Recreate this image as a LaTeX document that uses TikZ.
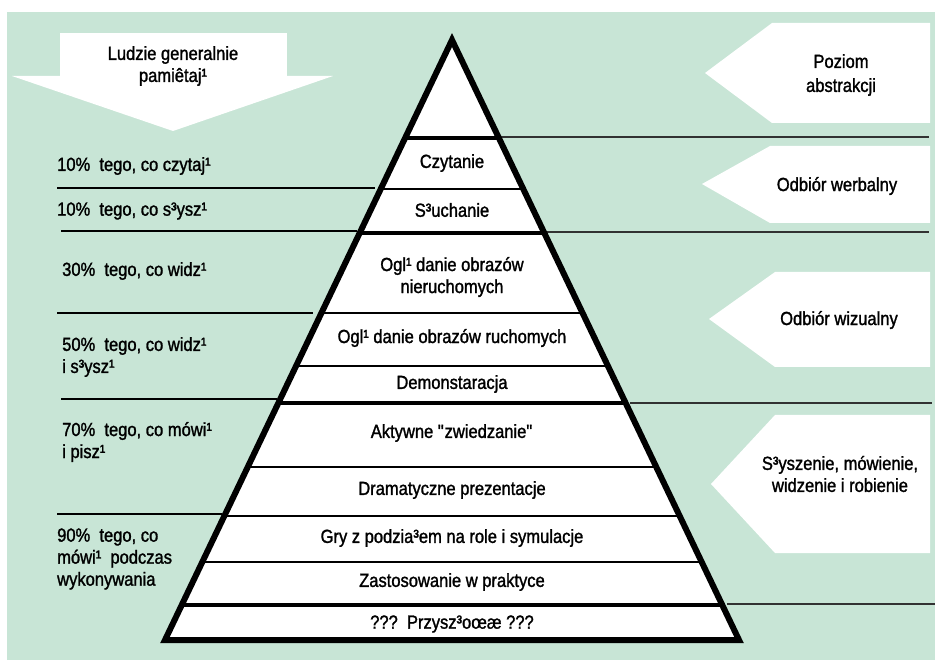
\documentclass[tikz,border=0pt]{standalone}
\usepackage{fontspec}
\setmainfont{Liberation Sans}[FakeStretch=0.87, FakeBold=1.4]
\definecolor{mint}{RGB}{200,229,214}
\definecolor{rulegray}{RGB}{50,50,50}
\begin{document}
\begin{tikzpicture}[x=1pt,y=-1pt,
  txt/.style={font=\fontsize{19}{22}\selectfont, inner sep=0pt},
  lefttxt/.style={txt, anchor=west, align=left},
  midtxt/.style={txt, align=center},
  tagbox/.style={fill=white},
  leftrule/.style={line width=1.8pt, black},
  rightrule/.style={line width=1.2pt, rulegray},
  thinlayer/.style={line width=2pt},
  thicklayer/.style={line width=3.5pt}]

\useasboundingbox (0,0) rectangle (935,660);
\fill[white] (0,0) rectangle (935,660);
\fill[mint] (7,12) rectangle (935,660);

% downward arrow, top left
\fill[tagbox] (60,33) rectangle (287,77);
\fill[tagbox] (12,76) -- (333,76) -- (173,131) -- cycle;
\node[midtxt] (remember) at (173,66) {Ludzie generalnie\\pamiêtaj¹};

% left-pointing tags on the right
\fill[tagbox] (930,23) -- (772,23) -- (705,73) -- (772,123) -- (930,123) -- cycle;
\node[midtxt, font=\fontsize{19}{24}\selectfont] (abstr) at (841,75) {Poziom\\abstrakcji};
\fill[tagbox] (930,146) -- (770,146) -- (702,184) -- (770,223) -- (930,223) -- cycle;
\node[midtxt] (verbal) at (837,186) {Odbiór werbalny};
\fill[tagbox] (930,272) -- (775,272) -- (709,319) -- (775,367) -- (930,367) -- cycle;
\node[midtxt] (visual) at (839,320) {Odbiór wizualny};
\fill[tagbox] (930,415) -- (775,415) -- (711,484) -- (775,553) -- (930,553) -- cycle;
\node[midtxt] (doing) at (840,474) {S³yszenie, mówienie,\\widzenie i robienie};

% separators running out of the pyramid
\draw[rightrule] (500,137) -- (929,137);
\draw[rightrule] (547,232) -- (929,232);
\draw[rightrule] (630,403) -- (932,403);
\draw[rightrule] (727,604) -- (935,604);
\draw[leftrule] (57,188) -- (375,188);
\draw[leftrule] (61,231) -- (357,231);
\draw[leftrule] (57,313) -- (313,313);
\draw[leftrule] (61,399) -- (277,399);
\draw[leftrule] (57,514) -- (222,514);

% pyramid
\coordinate (apex) at (452,40);
\coordinate (bl) at (165,640);
\coordinate (br) at (739,640);
\fill[white] (apex) -- (bl) -- (br) -- cycle;
\begin{scope}
  \clip (apex) -- (bl) -- (br) -- cycle;
  \draw[thicklayer] (100,138) -- (800,138);
  \draw[thinlayer]  (100,189) -- (800,189);
  \draw[thicklayer] (100,233) -- (800,233);
  \draw[thinlayer]  (100,313) -- (800,313);
  \draw[thinlayer]  (100,366) -- (800,366);
  \draw[thicklayer] (100,403) -- (800,403);
  \draw[thinlayer]  (100,467) -- (800,467);
  \draw[thinlayer]  (100,516) -- (800,516);
  \draw[thinlayer]  (100,562) -- (800,562);
  \draw[line width=4pt] (100,605) -- (800,605);
\end{scope}
\draw[line width=6pt, line join=miter] (apex) -- (bl) -- (br) -- cycle;

% pyramid layers
\node[midtxt] (l1)  at (452,163) {Czytanie};
\node[midtxt] (l2)  at (452,210) {S³uchanie};
\node[midtxt] (l3)  at (452,277) {Ogl¹ danie obrazów\\nieruchomych};
\node[midtxt] (l4)  at (452,338) {Ogl¹ danie obrazów ruchomych};
\node[midtxt] (l5)  at (452,384) {Demonstaracja};
\node[midtxt] (l6)  at (452,433) {Aktywne \textquotedbl zwiedzanie\textquotedbl};
\node[midtxt] (l7)  at (452,490) {Dramatyczne prezentacje};
\node[midtxt] (l8)  at (452,538) {Gry z podzia³em na role i symulacje};
\node[midtxt] (l9)  at (452,582) {Zastosowanie w praktyce};
\node[midtxt] (l10) at (452,624) {???\ \ Przysz³oœæ ???};

% retention percentages
\node[lefttxt] (p1) at (57,166) {10\%\ \ tego, co czytaj¹};
\node[lefttxt] (p2) at (57,211) {10\%\ \ tego, co s³ysz¹};
\node[lefttxt] (p3) at (62,271) {30\%\ \ tego, co widz¹};
\node[lefttxt] (p4) at (62,357) {50\%\ \ tego, co widz¹\\i s³ysz¹};
\node[lefttxt] (p5) at (62,442) {70\%\ \ tego, co mówi¹\\i pisz¹};
\node[lefttxt] (p6) at (57,559) {90\%\ \ tego, co\\mówi¹\ \ podczas\\wykonywania};

\end{tikzpicture}
\end{document}
